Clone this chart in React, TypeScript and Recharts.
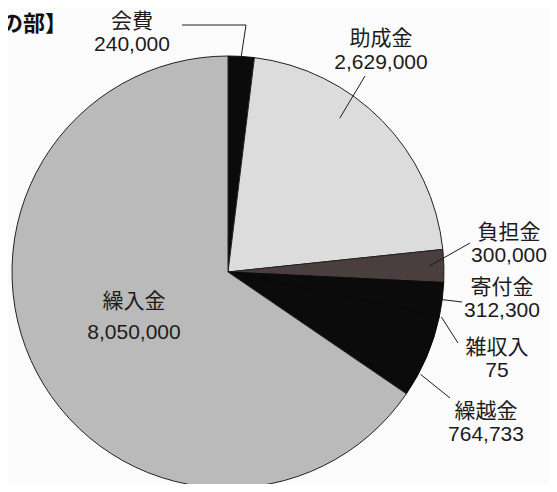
import { Cell, Pie, PieChart } from "recharts";

const CATEGORIES = ["会費", "助成金", "負担金", "寄付金", "雑収入", "繰越金", "繰入金"];
const AMOUNTS = [240000, 2629000, 300000, 312300, 75, 764733, 8050000];
const AMOUNT_LABELS = ["240,000", "2,629,000", "300,000", "312,300", "75", "764,733", "8,050,000"];

const FILLS = ["#0b0b0b", "#dcdcdc", "#4a3e3e", "#0b0b0b", "#0b0b0b", "#0b0b0b", "#bababa"];
const STROKES = ["#0b0b0b", "#222", "#222", "#0b0b0b", "#0b0b0b", "#0b0b0b", "#222"];
const FONT = '"Liberation Sans", "Noto Sans CJK JP", sans-serif';
const INK = "#1c1c1c";

const data = CATEGORIES.map((name, i) => ({ name, value: AMOUNTS[i], label: AMOUNT_LABELS[i] }));

// Label placement per slice: where the leader starts (angle override, radius factor),
// the bends it passes through, and where the two text lines sit.
type LabelLayout = {
  angle?: number;
  k: number;
  path: [number, number][];
  x: number;
  y1: number;
  y2: number;
};

const LAYOUT: LabelLayout[] = [
  { k: 1, path: [[246, 25], [182, 25]], x: 132, y1: 28, y2: 51 },
  { angle: 54, k: 0.88, path: [[365, 76]], x: 381, y1: 45, y2: 69 },
  { k: 0.93, path: [[470, 243]], x: 509, y1: 239, y2: 262 },
  { k: 1, path: [[462, 302]], x: 502, y1: 294, y2: 317 },
  { k: 1.01, path: [[458, 343]], x: 497, y1: 354, y2: 377 },
  { angle: -28, k: 1.01, path: [[450, 398]], x: 486, y1: 418, y2: 441 },
  { k: 0, path: [], x: 134, y1: 308, y2: 339 },
];

const RAD = Math.PI / 180;

function renderLabel(props: any) {
  const { cx, cy, midAngle, outerRadius, index } = props;
  const item = data[index];
  const layout = LAYOUT[index];
  if (!item || !layout) return null;
  const angle = layout.angle ?? midAngle;
  const r = outerRadius * layout.k;
  const sx = cx + r * Math.cos(-angle * RAD);
  const sy = cy + r * Math.sin(-angle * RAD);
  const points = [[sx, sy], ...layout.path].map((p) => p.join(",")).join(" ");
  return (
    <g key={`label-${index}`}>
      {layout.path.length > 0 ? (
        <polyline points={points} fill="none" stroke={INK} strokeWidth={1} />
      ) : null}
      <text x={layout.x} y={layout.y1} textAnchor="middle" fontSize={21} fontFamily={FONT} fill={INK}>
        {item.name}
      </text>
      <text x={layout.x} y={layout.y2} textAnchor="middle" fontSize={21} fontFamily={FONT} fill={INK}>
        {item.label}
      </text>
    </g>
  );
}

export default function App() {
  return (
    <div style={{ position: "relative", width: 557, height: 492, margin: -8, overflow: "hidden", background: "#fbfbfb" }}>
      <div
        style={{
          position: "absolute",
          right: 557 - 67,
          top: 5,
          whiteSpace: "nowrap",
          fontFamily: FONT,
          fontSize: 22,
          fontWeight: 700,
          color: "#111",
        }}
      >
        【収入の部】
      </div>
      <PieChart width={557} height={492} margin={{ top: 0, right: 0, bottom: 0, left: 0 }}>
        <Pie
          data={data}
          dataKey="value"
          nameKey="name"
          cx={228}
          cy={272}
          outerRadius={216}
          startAngle={90}
          endAngle={-270}
          strokeWidth={1}
          label={renderLabel}
          labelLine={false}
          isAnimationActive={false}
        >
          {data.map((entry, i) => (
            <Cell key={entry.name} fill={FILLS[i]} stroke={STROKES[i]} />
          ))}
        </Pie>
      </PieChart>
    </div>
  );
}
